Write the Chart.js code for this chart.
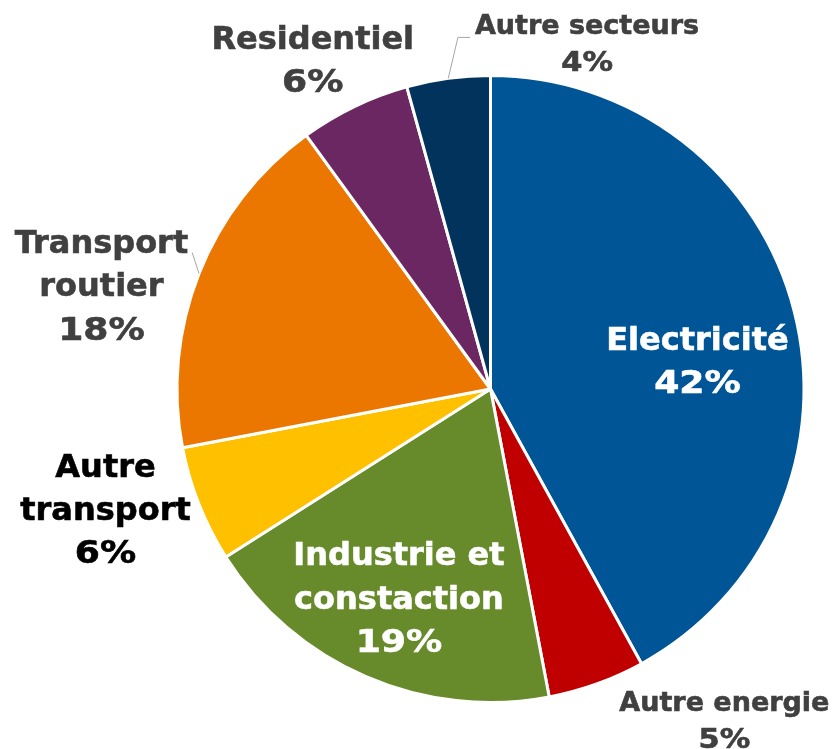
<!DOCTYPE html>
<html>
<head>
<meta charset="utf-8">
<script src="https://cdn.jsdelivr.net/npm/chart.js@4.4.0/dist/chart.umd.min.js"></script>
<style>
  html, body { margin: 0; padding: 0; background: #fff; }
  #wrap { width: 833px; height: 749px; }
</style>
</head>
<body>
<div id="wrap"><canvas id="pie" width="833" height="749"></canvas></div>
<script>
// data (clockwise from 12 o'clock)
const sectors = ["Electricité", "Autre energie", "Industrie et constaction", "Autre transport", "Transport routier", "Residentiel", "Autre secteurs"];
const shares = [42, 5, 19, 6, 18, 5.7, 4.3];
const sectorLines = [["Electricité"], ["Autre energie"], ["Industrie et", "constaction"], ["Autre", "transport"], ["Transport", "routier"], ["Residentiel"], ["Autre secteurs"]];
const sliceColors = ["#005596", "#C00000", "#678A2B", "#FFC000", "#EC7700", "#6B2762", "#02335C"];

// where each label sits, in units of the pie radius from its centre (first baseline)
const labelLayout = [
  { dx: 0.66, dy: -0.125, size: 32, lh: 43, color: "#ffffff" },
  { dx: 0.746, dy: 1.026, size: 27, lh: 37, color: "#404040" },
  { dx: -0.292, dy: 0.562, size: 32, lh: 43.5, color: "#ffffff" },
  { dx: -1.228, dy: 0.281, size: 32, lh: 43, color: "#000000" },
  { dx: -1.241, dy: -0.435, size: 32, lh: 43.5, color: "#404040", leader: "right" },
  { dx: -0.567, dy: -1.083, size: 32, lh: 43, color: "#404040" },
  { dx: 0.308, dy: -1.131, size: 27, lh: 37, color: "#404040", leader: "left" }
];

function drawLine(ctx, text, x, y, stretch) {
  ctx.save();
  ctx.translate(x, y);
  ctx.scale(stretch, 1);
  ctx.fillText(text, 0, 0);
  ctx.strokeText(text, 0, 0);
  ctx.restore();
}

const pieLabels = {
  id: "pieLabels",
  afterDatasetsDraw(chart) {
    const ctx = chart.ctx;
    const meta = chart.getDatasetMeta(0);
    const total = shares.reduce((a, b) => a + b, 0);
    meta.data.forEach((arc, i) => {
      const p = arc.getProps(["x", "y", "startAngle", "endAngle", "outerRadius"], true);
      const L = labelLayout[i];
      const r = p.outerRadius;
      const cx = p.x + L.dx * r;
      const by = p.y + L.dy * r;
      const pct = Math.round(shares[i] / total * 100) + "%";
      const lines = sectorLines[i];
      ctx.save();
      ctx.font = `bold ${L.size}px "DejaVu Sans"`;
      ctx.fillStyle = L.color;
      ctx.strokeStyle = L.color;
      ctx.lineWidth = 0.6;
      ctx.textAlign = "center";
      ctx.textBaseline = "alphabetic";
      lines.forEach((t, k) => drawLine(ctx, t, cx, by + k * L.lh, 1));
      drawLine(ctx, pct, cx, by + lines.length * L.lh, 1.13);

      if (L.leader) {
        const mid = (p.startAngle + p.endAngle) / 2;
        const ex = p.x + Math.cos(mid) * r;
        const ey = p.y + Math.sin(mid) * r;
        const w = ctx.measureText(lines[0]).width;
        ctx.strokeStyle = "#A6A6A6";
        ctx.lineWidth = 1;
        ctx.beginPath();
        ctx.moveTo(ex, ey);
        if (L.leader === "left") {
          ctx.lineTo(cx - w / 2 - 17, by + 3);
          ctx.lineTo(cx - w / 2 - 5, by + 3);
        } else {
          ctx.lineTo(cx + w / 2 + 4, by);
        }
        ctx.stroke();
      }
      ctx.restore();
    });
  }
};

new Chart(document.getElementById("pie"), {
  type: "pie",
  data: {
    labels: sectors,
    datasets: [{
      data: shares,
      backgroundColor: sliceColors,
      borderColor: "#ffffff",
      borderWidth: 3
    }]
  },
  options: {
    responsive: false,
    animation: false,
    layout: { padding: { left: 175.5, top: 74, right: 27.5, bottom: 45 } },
    plugins: {
      legend: { display: false },
      tooltip: { enabled: false }
    }
  },
  plugins: [pieLabels]
});
</script>
</body>
</html>
